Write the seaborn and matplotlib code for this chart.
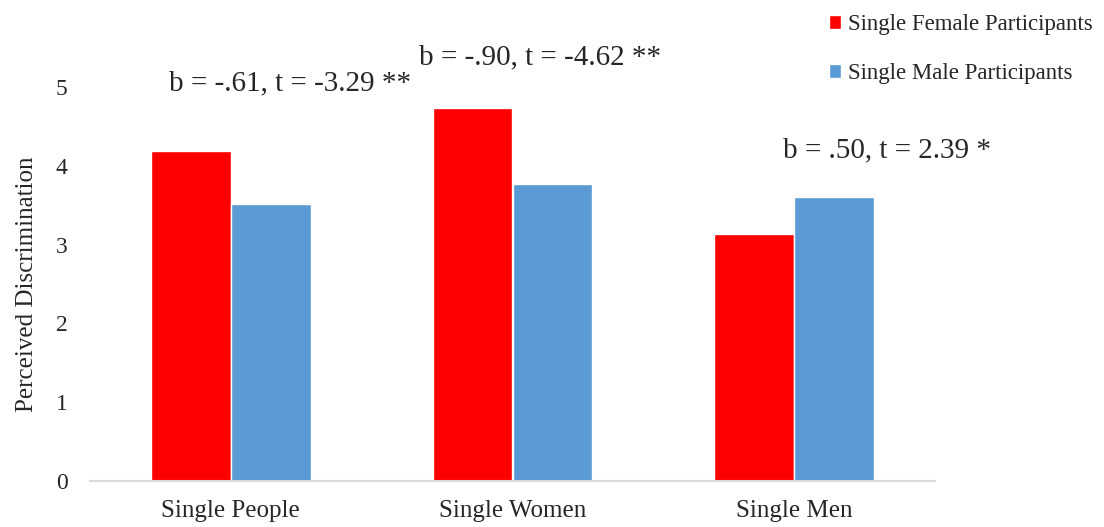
import matplotlib.pyplot as plt
import pandas as pd
import seaborn as sns

categories = ['Single People', 'Single Women', 'Single Men']
female_vals = [4.19, 4.73, 3.14]
male_vals = [3.52, 3.77, 3.61]
groups = ['Single Female Participants', 'Single Male Participants']
notes = ['b = -.61, t = -3.29 **', 'b = -.90, t = -4.62 **', 'b = .50, t = 2.39 *']
colors = ['#FF0000', '#5B9BD5']

df = pd.DataFrame({
    'target': categories * 2,
    'value': female_vals + male_vals,
    'group': [groups[0]] * 3 + [groups[1]] * 3,
})

sns.set_style('white')
plt.rcParams['font.family'] = ['Liberation Serif', 'DejaVu Serif']

fig = plt.figure(figsize=(11.04, 5.27), dpi=100)
ax = fig.add_axes([90 / 1104, 46 / 527, 845 / 1104, 394 / 527])

sns.barplot(data=df, x='target', y='value', hue='group', palette=colors,
            width=0.566, edgecolor='white', linewidth=1, saturation=1,
            errorbar=None, ax=ax)

ax.set_xlim(-0.5, 2.5)
ax.set_ylim(0, 5)
ax.set_yticks(range(6))
ax.set_xlabel('')
ax.set_ylabel('Perceived Discrimination', fontsize=18, labelpad=13)
ax.tick_params(axis='x', labelsize=18, length=0, pad=14)
ax.tick_params(axis='y', labelsize=17, length=0, pad=16)
for side in ['top', 'right', 'left']:
    ax.spines[side].set_visible(False)
ax.spines['bottom'].set_color('#d9d9d9')
ax.spines['bottom'].set_linewidth(1.5)

# significance notes above each group
note_pos = [(0.21, 5.05), (1.098, 5.37), (2.33, 4.2)]
for (x, y), txt in zip(note_pos, notes):
    ax.text(x, y, txt, ha='center', va='center', fontsize=21, clip_on=False)

handles, labels = ax.get_legend_handles_labels()
ax.legend(handles, labels, loc='upper left', bbox_to_anchor=(808 / 1104, 1.012),
          bbox_transform=fig.transFigure, frameon=False, fontsize=16.5,
          handlelength=0.55, handleheight=0.55, handletextpad=0.3,
          labelspacing=1.2)

fig.savefig('out.png', dpi=100)
